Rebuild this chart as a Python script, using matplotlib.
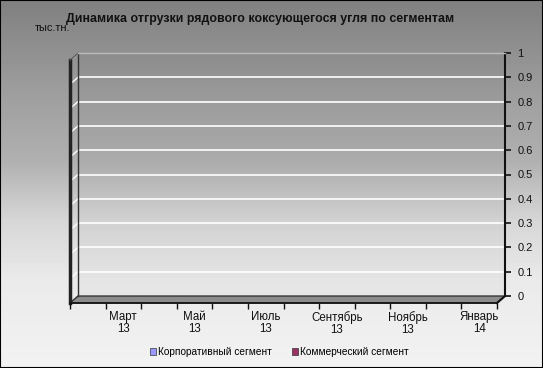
import matplotlib
matplotlib.use('Agg')
import matplotlib.pyplot as plt
import numpy as np
from matplotlib.patches import Polygon, Rectangle

plt.rcParams['font.family'] = ['Liberation Sans', 'DejaVu Sans']

# data (chart is empty: all values are zero)
months = ['Февраль\n13', 'Март\n13', 'Апрель\n13', 'Май\n13', 'Июнь\n13', 'Июль\n13',
          'Август\n13', 'Сентябрь\n13', 'Октябрь\n13', 'Ноябрь\n13', 'Декабрь\n13', 'Январь\n14']
corporate = [0, 0, 0, 0, 0, 0, 0, 0, 0, 0, 0, 0]
commercial = [0, 0, 0, 0, 0, 0, 0, 0, 0, 0, 0, 0]
yticks = [0, 0.1, 0.2, 0.3, 0.4, 0.5, 0.6, 0.7, 0.8, 0.9, 1]
title = 'Динамика отгрузки рядового коксующегося угля по сегментам'
unit = 'тыс.тн.'
series_names = ['Корпоративный сегмент', 'Коммерческий сегмент']

W, H = 543, 368
def fx(px):
    return px / W
def fy(py):
    return 1 - py / H

# gray gradient (top dark -> bottom light), by pixel row
def shade(rows):
    return np.interp(rows, [0, 100, 160, 220, 280, 368],
                     [128, 160, 176, 214, 234, 242]) / 255.0

# back wall box (pixels) and 3d depth offset
L, R, T, B = 78, 505, 53, 296
DX, DY = -8, 7

fig = plt.figure(figsize=(W / 100, H / 100), dpi=100)

# figure background gradient
bg = fig.add_axes([0, 0, 1, 1], zorder=0)
bg.imshow(shade(np.arange(H)).reshape(-1, 1), aspect='auto', cmap='gray',
          vmin=0, vmax=1, extent=[0, 1, 0, 1], origin='upper')
bg.axis('off')

# back wall
ax = fig.add_axes([fx(L), fy(B), fx(R) - fx(L), fy(T) - fy(B)], zorder=1)
x = np.arange(len(months))
ax.imshow((shade(np.arange(T, B)) - 0.02).reshape(-1, 1), aspect='auto', cmap='gray',
          vmin=0, vmax=1, extent=[-0.5, len(months) - 0.5, 0, 1], origin='upper', zorder=-1)
b1 = ax.bar(x - 0.2, corporate, 0.4, color='#9999FF', edgecolor='#333333', lw=0.5)
b2 = ax.bar(x + 0.2, commercial, 0.4, color='#993366', edgecolor='#333333', lw=0.5)
ax.set_xlim(-0.5, len(months) - 0.5)
ax.set_ylim(0, 1)
ax.set_axisbelow(True)
ax.yaxis.tick_right()
ax.set_yticks(yticks)
ax.set_yticklabels([('%g' % v) for v in yticks])
ax.set_xticks([])
ax.grid(axis='y', color='white', lw=1.2)
ax.tick_params(axis='y', direction='out', length=4, width=1.2, pad=5, labelsize=8, colors='#111111')
for s in ['left', 'top', 'bottom']:
    ax.spines[s].set_visible(False)
ax.spines['right'].set_linewidth(1.5)
ax.spines['right'].set_color('#111111')

# 3d frame: side wall, floor, edges
deco = fig.add_axes([0, 0, 1, 1], zorder=2)
deco.set_xlim(0, W)
deco.set_ylim(H, 0)
deco.axis('off')
deco.patch.set_alpha(0)
for v in yticks[1:]:
    yy = B - v * (B - T)
    deco.plot([L + DX, L], [yy + DY, yy], color='white', lw=1)
deco.plot([L, L], [T, B], color='#333333', lw=1)
deco.plot([L + DX, L + DX], [T + DY, B + DY], color='#222222', lw=2.5)
deco.plot([L + DX, L], [T + DY, T], color='#555555', lw=1)
deco.plot([L, R], [T, T], color='#bbbbbb', lw=1)
deco.add_patch(Polygon([(L, B), (R, B), (R + DX, B + DY), (L + DX, B + DY)],
                       closed=True, fc='#8c8c8c', ec='#333333', lw=1))
deco.plot([R, R + DX], [B, B + DY], color='#111111', lw=1.5)

# front category axis
ax2 = fig.add_axes([fx(L + DX), fy(B + DY), fx(R + DX) - fx(L + DX), 0.001], zorder=3)
ax2.patch.set_alpha(0)
ax2.set_xlim(-0.5, len(months) - 0.5)
ax2.set_yticks([])
for s in ['left', 'top', 'right']:
    ax2.spines[s].set_visible(False)
ax2.spines['bottom'].set_linewidth(1.2)
ax2.spines['bottom'].set_color('#111111')
ax2.set_xticks(x)
ax2.set_xticklabels([m if i % 2 == 1 else '' for i, m in enumerate(months)], fontsize=8.3,
                    color='#111111', linespacing=0.95)
ax2.set_xticks(np.arange(-0.5, len(months), 1), minor=True)
ax2.tick_params(axis='x', which='major', length=0, pad=6)
ax2.tick_params(axis='x', which='minor', length=4, width=1, direction='out', color='#111111')

# texts
fig.text(fx(260), fy(19), title, ha='center', va='center', fontsize=8.9, fontweight='bold', color='#111111')
fig.text(fx(35), fy(28), unit, ha='left', va='center', fontsize=7.9, color='#111111')

fig.legend([b1, b2], series_names, loc='center', bbox_to_anchor=(fx(279), fy(352)), ncol=2,
           frameon=False, fontsize=7.3, handlelength=0.6, handleheight=0.6, handletextpad=0.2,
           columnspacing=2.0)

fig.patches.append(Rectangle((0, 0), 1, 1, transform=fig.transFigure, fill=False, ec='black', lw=1.5))

fig.savefig('out.png', dpi=100)
